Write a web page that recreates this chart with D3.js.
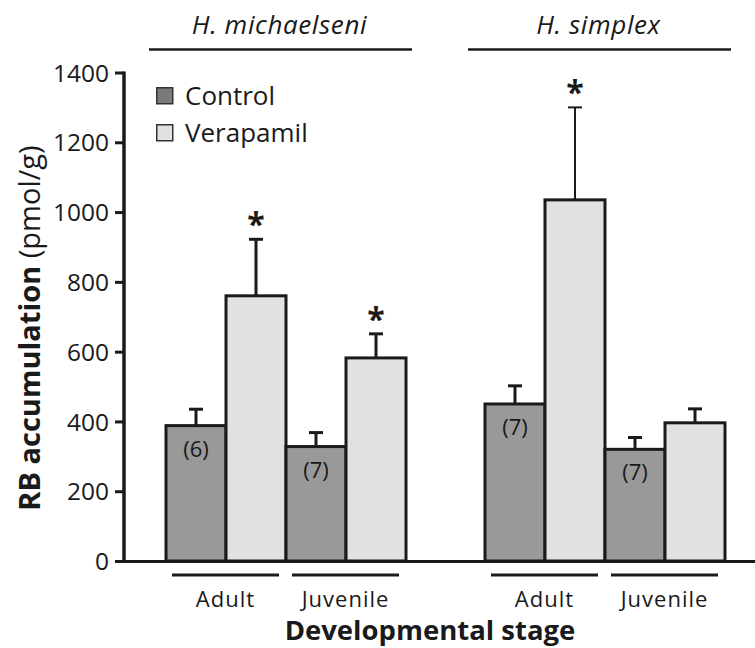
<!DOCTYPE html>
<html>
<head>
<meta charset="utf-8">
<script src="https://cdn.jsdelivr.net/npm/d3@7"></script>
<style>
  body { margin: 0; background: #fff; }
  svg text { font-family: "Open Sans", sans-serif; fill: #1a1a1a; }
</style>
</head>
<body>
<svg id="chart" width="755" height="648"></svg>
<script>
// data
const species = ["H. michaelseni", "H. simplex"];
const stages = ["Adult", "Juvenile"];
const treatments = ["Control", "Verapamil"];
// order: mich adult, mich juvenile, simplex adult, simplex juvenile
const controlMeans = [388, 328, 450, 320];
const controlErr = [47, 40, 52, 34];
const verapamilMeans = [760, 582, 1035, 396];
const verapamilErr = [162, 69, 265, 40];
const sampleSizes = ["(6)", "(7)", "(7)", "(7)"];
const significant = [true, true, true, false];
const yTicks = [0, 200, 400, 600, 800, 1000, 1200, 1400];

const fills = { Control: "#999999", Verapamil: "#e1e1e1" };
const legendFills = { Control: "#7a7a7a", Verapamil: "#e1e1e1" };

const svg = d3.select("#chart");

const y = d3.scaleLinear().domain([0, 1400]).range([561, 72.5]);

const xSpecies = d3.scaleBand().domain(species).range([166, 725]).paddingInner(0.2476).paddingOuter(0);
const xStage = d3.scaleBand().domain(stages).range([0, xSpecies.bandwidth()]);
const xTreat = d3.scaleBand().domain(treatments).range([0, xStage.bandwidth()]);

// flatten into rows
const rows = [];
species.forEach((sp, i) => {
    stages.forEach((st, j) => {
        const k = i * 2 + j;
        rows.push({ sp, st, tr: "Control", mean: controlMeans[k], err: controlErr[k], n: sampleSizes[k], sig: false });
        rows.push({ sp, st, tr: "Verapamil", mean: verapamilMeans[k], err: verapamilErr[k], n: null, sig: significant[k] });
    });
});
const bx = (d) => xSpecies(d.sp) + xStage(d.st) + xTreat(d.tr);
const bw = xTreat.bandwidth();

// error bars (drawn first so bar outline covers stem base)
const eb = svg.append("g").selectAll("g").data(rows).enter().append("g");
eb.append("line")
    .attr("x1", (d) => bx(d) + bw / 2)
    .attr("x2", (d) => bx(d) + bw / 2)
    .attr("y1", (d) => y(d.mean))
    .attr("y2", (d) => y(d.mean + d.err))
    .attr("stroke", "#1a1a1a")
    .attr("stroke-width", (d) => d.err > 200 ? 2 : 3);
eb.append("line")
    .attr("x1", (d) => bx(d) + bw / 2 - 7)
    .attr("x2", (d) => bx(d) + bw / 2 + 7)
    .attr("y1", (d) => y(d.mean + d.err))
    .attr("y2", (d) => y(d.mean + d.err))
    .attr("stroke", "#1a1a1a")
    .attr("stroke-width", (d) => d.err > 200 ? 2 : 3);

// bars
svg.append("g").selectAll("rect").data(rows).enter().append("rect")
    .attr("x", (d) => bx(d))
    .attr("y", (d) => y(d.mean))
    .attr("width", bw)
    .attr("height", (d) => y(0) - y(d.mean))
    .attr("fill", (d) => fills[d.tr])
    .attr("stroke", "#1a1a1a")
    .attr("stroke-width", 3);

// sample sizes
svg.append("g").selectAll("text").data(rows.filter((d) => d.n)).enter().append("text")
    .attr("x", (d) => bx(d) + bw / 2)
    .attr("y", (d) => y(d.mean) + 31)
    .attr("text-anchor", "middle")
    .style("font-size", "22px")
    .text((d) => d.n);

// asterisks
svg.append("g").selectAll("text").data(rows.filter((d) => d.sig)).enter().append("text")
    .attr("x", (d) => bx(d) + bw / 2)
    .attr("y", (d) => y(d.mean + d.err) - 3)
    .attr("text-anchor", "middle")
    .style("font-size", "32px")
    .style("font-weight", "bold")
    .text("*");

// y axis
const yAxis = svg.append("g")
    .attr("transform", "translate(124,0)")
    .call(d3.axisLeft(y).tickValues(yTicks).tickFormat(d3.format("d"))
        .tickSize(9).tickPadding(6).tickSizeOuter(0));
yAxis.select(".domain").attr("stroke", "#1a1a1a").attr("stroke-width", 3.5)
    .attr("d", "M0," + (y(1400) - 1) + "V" + (y(0) + 1.5));
yAxis.selectAll(".tick line").attr("stroke", "#1a1a1a").attr("stroke-width", 3);
yAxis.selectAll(".tick text")
    .style("font-size", "24.5px")
    .style("font-family", "'Open Sans', sans-serif")
    .attr("fill", "#1a1a1a")
    .attr("dy", "0.35em");

// x baseline
svg.append("line")
    .attr("x1", 124).attr("x2", 755)
    .attr("y1", y(0) + 0.5).attr("y2", y(0) + 0.5)
    .attr("stroke", "#1a1a1a").attr("stroke-width", 3);

// stage brackets and labels
const stageRows = [];
species.forEach((sp) => stages.forEach((st) => stageRows.push({ sp, st })));
const sx = (d) => xSpecies(d.sp) + xStage(d.st);
svg.append("g").selectAll("line").data(stageRows).enter().append("line")
    .attr("x1", (d) => sx(d) + 6)
    .attr("x2", (d) => sx(d) + xStage.bandwidth() - 7)
    .attr("y1", 575).attr("y2", 575)
    .attr("stroke", "#1a1a1a").attr("stroke-width", 3);
svg.append("g").selectAll("text").data(stageRows).enter().append("text")
    .attr("x", (d) => sx(d) + xStage.bandwidth() / 2 - 0.5)
    .attr("y", 607)
    .attr("text-anchor", "middle")
    .style("font-size", "22px")
    .style("letter-spacing", "1px")
    .text((d) => d.st);

svg.append("text")
    .attr("x", 430).attr("y", 640)
    .attr("text-anchor", "middle")
    .style("font-size", "27.5px")
    .style("font-weight", "bold")
    .text("Developmental stage");

// species headers
const hdr = svg.append("g").selectAll("g").data(species).enter().append("g");
hdr.append("line")
    .attr("x1", (d) => xSpecies(d) - 17)
    .attr("x2", (d) => xSpecies(d) + xSpecies.bandwidth() + 6)
    .attr("y1", 49.5).attr("y2", 49.5)
    .attr("stroke", "#1a1a1a").attr("stroke-width", 2.5);
hdr.append("text")
    .attr("x", (d) => xSpecies(d) + xSpecies.bandwidth() / 2 - 6.5)
    .attr("y", 34)
    .attr("text-anchor", "middle")
    .style("font-size", "26px")
    .style("font-style", "italic")
    .style("letter-spacing", "0.6px")
    .text((d) => d);

// y label
const yl = svg.append("text")
    .attr("transform", "translate(40,328) rotate(-90)")
    .attr("text-anchor", "middle")
    .style("font-size", "29px");
yl.append("tspan").style("font-weight", "bold").text("RB accumulation");
yl.append("tspan").text(" (pmol/g)");

// legend
const lg = svg.append("g").selectAll("g").data(treatments).enter().append("g")
    .attr("transform", (d, i) => "translate(156," + (87 + i * 37) + ")");
lg.append("rect")
    .attr("x", 0.75).attr("y", 0.75)
    .attr("width", 16).attr("height", 16)
    .attr("fill", (d) => legendFills[d])
    .attr("stroke", "#333").attr("stroke-width", 1.5);
lg.append("text")
    .attr("x", 29).attr("y", 18)
    .style("font-size", "26px")
    .text((d) => d);
</script>
</body>
</html>
